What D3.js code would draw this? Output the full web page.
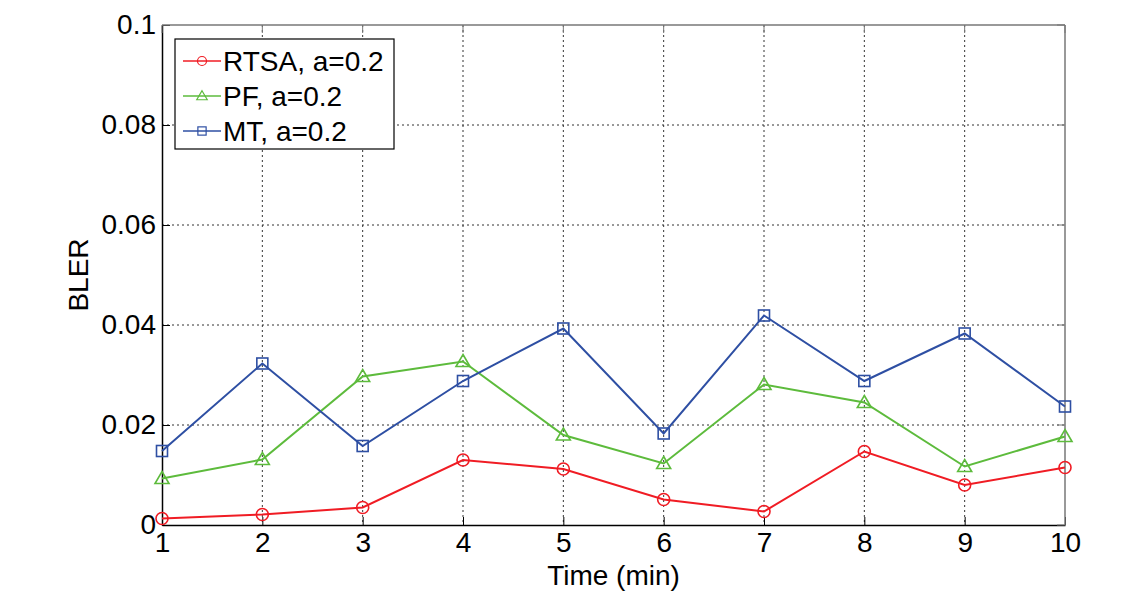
<!DOCTYPE html>
<html><head><meta charset="utf-8">
<script src="https://cdn.jsdelivr.net/npm/d3@7"></script>
<style>body{margin:0;background:#fff;}svg{display:block;font-family:"Liberation Sans",Arial,sans-serif;}</style>
</head><body>
<svg id="c" width="1135" height="591"></svg>
<script>
const times = [1,2,3,4,5,6,7,8,9,10];
const rtsa = [0.0013,0.0021,0.0035,0.0130,0.0112,0.0051,0.0027,0.0147,0.0080,0.0115];
const pf   = [0.0093,0.0131,0.0297,0.0327,0.0180,0.0123,0.0281,0.0245,0.0117,0.0177];
const mt   = [0.0148,0.0323,0.0158,0.0288,0.0393,0.0183,0.0419,0.0288,0.0383,0.0237];
const seriesNames = ["RTSA, a=0.2","PF, a=0.2","MT, a=0.2"];
const xTicks = [1,2,3,4,5,6,7,8,9,10];
const yTicks = [0,0.02,0.04,0.06,0.08,0.1];
const yTickLabels = ["0","0.02","0.04","0.06","0.08","0.1"];

const svg = d3.select("#c");
const L=162, R=1065, T=25, B=525;
const FS = 28;
const x = d3.scaleLinear().domain([1,10]).range([L,R]);
const y = d3.scaleLinear().domain([0,0.1]).range([B,T]);

// grid
const g = svg.append("g");
g.selectAll(".gx").data(xTicks.slice(1,-1)).enter().append("line")
 .attr("x1",d=>x(d)).attr("x2",d=>x(d)).attr("y1",T).attr("y2",B)
 .attr("stroke","#333").attr("stroke-width",1).attr("stroke-dasharray","2,3");
g.selectAll(".gy").data(yTicks.slice(1,-1)).enter().append("line")
 .attr("y1",d=>y(d)).attr("y2",d=>y(d)).attr("x1",L).attr("x2",R)
 .attr("stroke","#333").attr("stroke-width",1).attr("stroke-dasharray","2,3");

// axes
const xa = svg.append("g").attr("transform",`translate(0,${B})`)
 .call(d3.axisBottom(x).tickValues(xTicks).tickSizeInner(-8).tickSizeOuter(0).tickPadding(7).tickFormat(d3.format("d")));
const ya = svg.append("g").attr("transform",`translate(${L},0)`)
 .call(d3.axisLeft(y).tickValues(yTicks).tickSizeInner(-8).tickSizeOuter(0).tickPadding(6).tickFormat((d,i)=>yTickLabels[i]));
[xa,ya].forEach(a=>{a.selectAll("text").attr("font-size",FS).attr("fill","#000").attr("font-family","Liberation Sans, Arial, sans-serif");
 a.select(".domain").attr("stroke","#000").attr("stroke-width",1.5);
 a.selectAll(".tick line").attr("stroke","#000");});
xa.selectAll("text").attr("dy","0.71em");
// top & right box
svg.append("line").attr("x1",L).attr("x2",R).attr("y1",T).attr("y2",T).attr("stroke","#777").attr("stroke-width",1.5);
svg.append("line").attr("x1",R).attr("x2",R).attr("y1",T).attr("y2",B).attr("stroke","#777").attr("stroke-width",1.5);
svg.selectAll(".tt").data(xTicks).enter().append("line")
 .attr("x1",d=>x(d)).attr("x2",d=>x(d)).attr("y1",T).attr("y2",T+8).attr("stroke","#777");
svg.selectAll(".tr").data(yTicks).enter().append("line")
 .attr("y1",d=>y(d)).attr("y2",d=>y(d)).attr("x1",R-8).attr("x2",R).attr("stroke","#777");

// labels
svg.append("text").attr("x",(L+R)/2).attr("y",585).attr("text-anchor","middle").attr("font-size",FS).text("Time (min)");
svg.append("text").attr("transform",`translate(88,${(T+B)/2}) rotate(-90)`).attr("text-anchor","middle").attr("font-size",FS).text("BLER");

const colors = ["#f01c24","#5dbb3c","#2e4fa3"];
const data = [rtsa,pf,mt];
const line = d3.line().x((d,i)=>x(times[i])).y(d=>y(d));

function marker(sel, type, color){
  if(type===0) sel.append("circle").attr("r",6).attr("fill","none").attr("stroke",color).attr("stroke-width",1.6);
  else if(type===1) sel.append("path").attr("d","M0,-7L7,5L-7,5Z").attr("fill","none").attr("stroke",color).attr("stroke-width",1.6);
  else sel.append("rect").attr("x",-5.5).attr("y",-5.5).attr("width",11).attr("height",11).attr("fill","none").attr("stroke",color).attr("stroke-width",1.6);
}

data.forEach((vals,k)=>{
  svg.append("path").datum(vals).attr("d",line).attr("fill","none").attr("stroke",colors[k]).attr("stroke-width",2);
  vals.forEach((v,i)=>{
    const m = svg.append("g").attr("transform",`translate(${x(times[i])},${y(v)})`);
    marker(m,k,colors[k]);
  });
});

// legend
const lg = svg.append("g");
lg.append("rect").attr("x",175).attr("y",39).attr("width",219).attr("height",110).attr("fill","#fff").attr("stroke","#000").attr("stroke-width",1.2);
seriesNames.forEach((n,k)=>{
  const yy = 61 + k*35;
  lg.append("line").attr("x1",183).attr("x2",221).attr("y1",yy).attr("y2",yy).attr("stroke",colors[k]).attr("stroke-width",1.5);
  const m = lg.append("g").attr("transform",`translate(202,${yy}) scale(0.75)`);
  marker(m,k,colors[k]);
  lg.append("text").attr("x",223).attr("y",yy).attr("dy","0.36em").attr("font-size",FS).text(n);
});
</script>
</body></html>
